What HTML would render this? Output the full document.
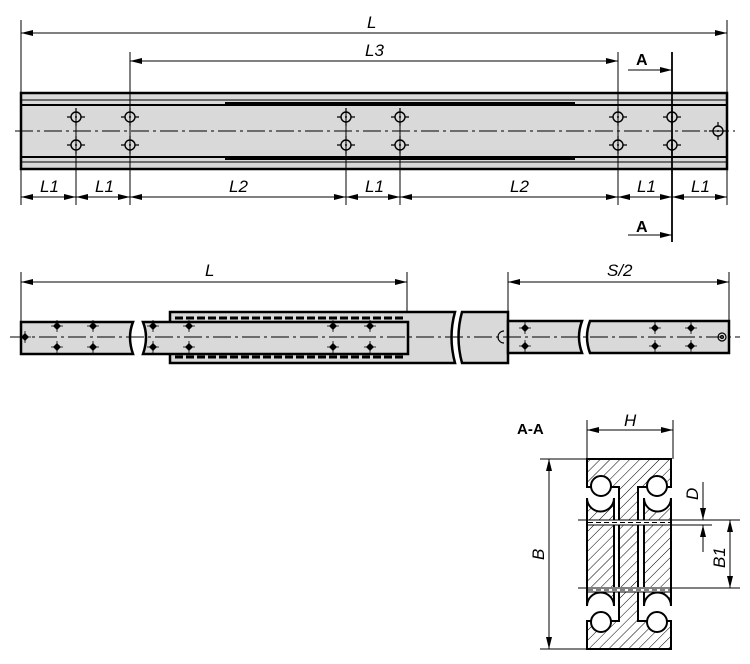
<!DOCTYPE html>
<html><head><style>body{margin:0;background:#fff}svg{display:block}text{font-family:"Liberation Sans Narrow","Liberation Sans",sans-serif;font-style:italic;font-size:17px}</style></head><body>
<svg width="750" height="664" viewBox="0 0 750 664" xmlns="http://www.w3.org/2000/svg">
<defs>
<marker id="a" viewBox="0 0 12 6" refX="12" refY="3" markerWidth="12" markerHeight="6" orient="auto-start-reverse" markerUnits="userSpaceOnUse"><path d="M0,0L12,3L0,6z" fill="#000"/></marker>
<pattern id="h" width="7" height="7" patternUnits="userSpaceOnUse" patternTransform="rotate(45)"><rect width="7" height="7" fill="#fff"/><line x1="0" y1="0" x2="0" y2="7" stroke="#000" stroke-width="1"/></pattern>
<g id="ch"><circle r="5" fill="none" stroke="#000" stroke-width="1.4"/><circle r="1" fill="#000"/><path d="M-9,0H-5M5,0H9M0,-9V-5M0,5V9" stroke="#000" stroke-width="1.2"/></g>
<g id="dm"><path d="M0,-4L4,0L0,4L-4,0z" fill="#000"/><path d="M-6,0H6M0,-6V6" stroke="#000" stroke-width="0.8"/></g>
</defs>
<g stroke="#000" fill="none">
<rect x="21" y="93" width="706" height="76" fill="#d9d9d9" stroke-width="2.5"/>
<line x1="21" y1="105" x2="727" y2="105" stroke-width="2"/>
<line x1="21" y1="157" x2="727" y2="157" stroke-width="2"/>
<line x1="21" y1="100" x2="727" y2="100" stroke-width="1"/>
<line x1="21" y1="162" x2="727" y2="162" stroke-width="1"/>
<line x1="225" y1="104" x2="575" y2="104" stroke-width="4"/>
<line x1="225" y1="158" x2="575" y2="158" stroke-width="4"/>
<line x1="15" y1="131" x2="735" y2="131" stroke-width="1" stroke-dasharray="18,4,3,4"/>
<line x1="21" y1="20" x2="21" y2="205" stroke-width="1"/>
<line x1="727" y1="20" x2="727" y2="205" stroke-width="1"/>
<line x1="130" y1="52" x2="130" y2="205" stroke-width="1"/>
<line x1="618" y1="52" x2="618" y2="205" stroke-width="1"/>
<line x1="76" y1="110" x2="76" y2="205" stroke-width="1"/>
<line x1="346" y1="110" x2="346" y2="205" stroke-width="1"/>
<line x1="400" y1="110" x2="400" y2="205" stroke-width="1"/>
<line x1="672" y1="52" x2="672" y2="242" stroke-width="1.8"/>
<line x1="21" y1="33" x2="727" y2="33" stroke-width="1" marker-start="url(#a)" marker-end="url(#a)"/>
<line x1="130" y1="61" x2="618" y2="61" stroke-width="1" marker-start="url(#a)" marker-end="url(#a)"/>
<line x1="628" y1="70" x2="672" y2="70" stroke-width="1" marker-end="url(#a)"/>
<line x1="628" y1="235" x2="672" y2="235" stroke-width="1" marker-end="url(#a)"/>
<g stroke-width="1">
<line x1="21" y1="197" x2="76" y2="197" marker-start="url(#a)" marker-end="url(#a)"/>
<line x1="76" y1="197" x2="130" y2="197" marker-start="url(#a)" marker-end="url(#a)"/>
<line x1="130" y1="197" x2="346" y2="197" marker-start="url(#a)" marker-end="url(#a)"/>
<line x1="346" y1="197" x2="400" y2="197" marker-start="url(#a)" marker-end="url(#a)"/>
<line x1="400" y1="197" x2="618" y2="197" marker-start="url(#a)" marker-end="url(#a)"/>
<line x1="618" y1="197" x2="672" y2="197" marker-start="url(#a)" marker-end="url(#a)"/>
<line x1="672" y1="197" x2="727" y2="197" marker-start="url(#a)" marker-end="url(#a)"/>
</g>
</g>
<g>
<use href="#ch" x="76" y="117"/><use href="#ch" x="76" y="145"/>
<use href="#ch" x="130" y="117"/><use href="#ch" x="130" y="145"/>
<use href="#ch" x="346" y="117"/><use href="#ch" x="346" y="145"/>
<use href="#ch" x="400" y="117"/><use href="#ch" x="400" y="145"/>
<use href="#ch" x="618" y="117"/><use href="#ch" x="618" y="145"/>
<use href="#ch" x="672" y="117"/><use href="#ch" x="672" y="145"/>
<use href="#ch" x="718" y="131"/>
</g>
<text x="367" y="28">L</text>
<text x="365" y="56">L3</text>
<text x="40" y="192">L1</text><text x="95" y="192">L1</text><text x="229" y="192">L2</text>
<text x="365" y="192">L1</text><text x="510" y="192">L2</text><text x="637" y="192">L1</text><text x="691" y="192">L1</text>
<text x="636" y="65" style="font-style:normal;font-weight:bold;font-size:16px;font-family:'Liberation Sans',sans-serif">A</text>
<text x="636" y="232" style="font-style:normal;font-weight:bold;font-size:16px;font-family:'Liberation Sans',sans-serif">A</text>

<g stroke="#000" fill="#d9d9d9">
<path d="M170,312H455Q448,337 455,363H170Z" stroke-width="2.5"/>
<path d="M21,322H133Q127,337 133,354H21Z" stroke-width="2.5"/>
<path d="M143,322H408V354H143Q149,337 143,322Z" stroke-width="2.5"/>
<path d="M462,312H508V363H462Q455,337 462,312Z" stroke-width="2.5"/>
<path d="M508,321H582Q576,337 582,353H508Z" stroke-width="2.5"/>
<path d="M590,321H729V353H590Q584,337 590,321Z" stroke-width="2.5"/>
<line x1="175" y1="318" x2="406" y2="318" stroke-width="3" stroke-dasharray="8,3"/>
<line x1="175" y1="357" x2="406" y2="357" stroke-width="3" stroke-dasharray="8,3"/>
<path d="M504,331A6,6 0 0 0 504,343" fill="none" stroke-width="1.2"/>
</g>
<g stroke="#000" fill="none" stroke-width="1">
<line x1="10" y1="337" x2="740" y2="337" stroke-dasharray="18,4,3,4"/>
<line x1="21" y1="272" x2="21" y2="322"/>
<line x1="407" y1="272" x2="407" y2="312"/>
<line x1="508" y1="272" x2="508" y2="312"/>
<line x1="729" y1="272" x2="729" y2="321"/>
<line x1="21" y1="282" x2="407" y2="282" marker-start="url(#a)" marker-end="url(#a)"/>
<line x1="508" y1="282" x2="729" y2="282" marker-start="url(#a)" marker-end="url(#a)"/>
<circle cx="722" cy="337" r="4" stroke-width="1.2"/><circle cx="722" cy="337" r="1.5"/>
</g>
<g>
<use href="#dm" x="25" y="337"/>
<use href="#dm" x="57" y="326"/><use href="#dm" x="57" y="347"/>
<use href="#dm" x="93" y="326"/><use href="#dm" x="93" y="347"/>
<use href="#dm" x="153" y="326"/><use href="#dm" x="153" y="347"/>
<use href="#dm" x="189" y="326"/><use href="#dm" x="189" y="347"/>
<use href="#dm" x="333" y="326"/><use href="#dm" x="333" y="347"/>
<use href="#dm" x="370" y="326"/><use href="#dm" x="370" y="347"/>
<use href="#dm" x="525" y="328"/><use href="#dm" x="525" y="346"/>
<use href="#dm" x="655" y="328"/><use href="#dm" x="655" y="346"/>
<use href="#dm" x="691" y="328"/><use href="#dm" x="691" y="346"/>
</g>
<text x="205" y="276">L</text>
<text x="607" y="276">S/2</text>

<text x="517" y="434" style="font-style:normal;font-weight:bold;font-size:15px;font-family:'Liberation Sans',sans-serif">A-A</text>
<g stroke="#000" stroke-width="2" fill="url(#h)">
<path d="M587,459H671V487H638V621H671V649H587V621H619V487H587Z"/>
<path d="M587,498A12,12 0 0 0 614,498V606A12,12 0 0 0 587,606Z"/>
<path d="M644,498A12,12 0 0 0 671,498V606A12,12 0 0 0 644,606Z"/>
</g>
<g stroke="#000" fill="none" stroke-width="2">
<circle cx="601" cy="486" r="10" fill="#fff"/><circle cx="657" cy="486" r="10" fill="#fff"/>
<circle cx="601" cy="622" r="10" fill="#fff"/><circle cx="657" cy="622" r="10" fill="#fff"/>
</g>
<g stroke="#000" fill="none" stroke-width="1">
<rect x="588" y="520" width="82" height="5" fill="#fff" stroke="none"/>
<rect x="588" y="587" width="82" height="5" fill="#fff" stroke="none"/>
<line x1="578" y1="520" x2="740" y2="520"/><line x1="588" y1="525" x2="712" y2="525"/>
<line x1="578" y1="588" x2="740" y2="588"/><line x1="588" y1="592" x2="670" y2="592"/>
<line x1="588" y1="522.5" x2="670" y2="522.5" stroke-dasharray="5,3"/>
<line x1="588" y1="590" x2="670" y2="590" stroke-dasharray="5,3"/>
<line x1="587" y1="420" x2="587" y2="459"/><line x1="673" y1="420" x2="673" y2="459"/>
<line x1="587" y1="430" x2="673" y2="430" marker-start="url(#a)" marker-end="url(#a)"/>
<line x1="540" y1="459" x2="587" y2="459"/><line x1="540" y1="649" x2="587" y2="649"/>
<line x1="549" y1="459" x2="549" y2="649" marker-start="url(#a)" marker-end="url(#a)"/>
<line x1="730" y1="520" x2="730" y2="588" marker-start="url(#a)" marker-end="url(#a)"/>
<line x1="703" y1="482" x2="703" y2="520" marker-end="url(#a)"/>
<line x1="703" y1="552" x2="703" y2="525" marker-end="url(#a)"/>
</g>
<text x="624" y="426">H</text>
<text transform="translate(544,560) rotate(-90)">B</text>
<text transform="translate(725,568) rotate(-90)">B1</text>
<text transform="translate(698,500) rotate(-90)">D</text>
</svg>
</body></html>
